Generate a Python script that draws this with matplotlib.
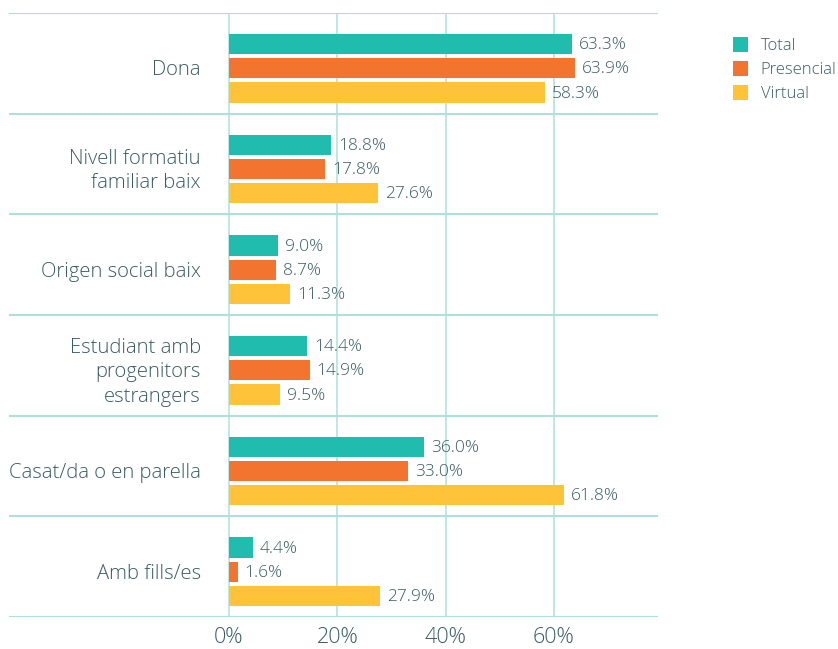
import matplotlib.pyplot as plt
import numpy as np

plt.rcParams['font.family'] = ['Open Sans', 'DejaVu Sans']
plt.rcParams['font.weight'] = 300

categories = ["Dona", "Nivell formatiu\nfamiliar baix", "Origen social baix",
              "Estudiant amb\nprogenitors\nestrangers", "Casat/da o en parella", "Amb fills/es"]
series_names = ["Total", "Presencial", "Virtual"]
total = [63.3, 18.8, 9.0, 14.4, 36.0, 4.4]
presencial = [63.9, 17.8, 8.7, 14.9, 33.0, 1.6]
virtual = [58.3, 27.6, 11.3, 9.5, 61.8, 27.9]
ticks = [0, 20, 40, 60]

colors = ["#20bcad", "#f3742e", "#fec339"]
grid_col = "#ade0da"
text_col = "#3a5c62"

fig = plt.figure(figsize=(8.38, 6.49), dpi=100)
ax = fig.add_axes([9 / 838, 1 - 617 / 649, 649 / 838, 604 / 649])

x_left, x_right = -40.6, 79.2
ax.set_xlim(x_left, x_right)
ax.set_ylim(len(categories) - 0.5, -0.5)

y = np.arange(len(categories))
offsets = [-0.19, 0.05, 0.29]
for vals, off, col, name in zip([total, presencial, virtual], offsets, colors, series_names):
    ax.barh(y + off, vals, height=0.2, color=col, label=name, zorder=3)
    for yi, v in zip(y, vals):
        ax.text(v + 1.3, yi + off + 0.01, f"{v:.1f}%", va="center", ha="left",
                fontsize=12.5, color=text_col, zorder=4)

for yi, cat in zip(y, categories):
    ax.text(-5.2, yi + 0.07, cat, ha="right", va="center", fontsize=14.6,
            color=text_col, linespacing=1.3)

# group separators
for b in np.arange(len(categories) + 1) - 0.5:
    ax.axhline(b, color=grid_col, lw=1.5, zorder=1)
for t in ticks:
    ax.axvline(t, color=grid_col, lw=1.1, zorder=1)

for s in ax.spines.values():
    s.set_visible(False)
ax.set_yticks([])
ax.set_xticks(ticks)
ax.set_xticklabels([f"{t}%" for t in ticks], fontsize=15.5, color=text_col)
ax.tick_params(axis="x", length=0, pad=7)

leg = fig.legend(loc="upper left", bbox_to_anchor=(718 / 838, 1 - 22 / 649),
                 frameon=False, fontsize=12, handlelength=0.9, handleheight=1.0,
                 handletextpad=0.75, labelspacing=0.4, labelcolor=text_col)

fig.savefig("out.png", dpi=100)
